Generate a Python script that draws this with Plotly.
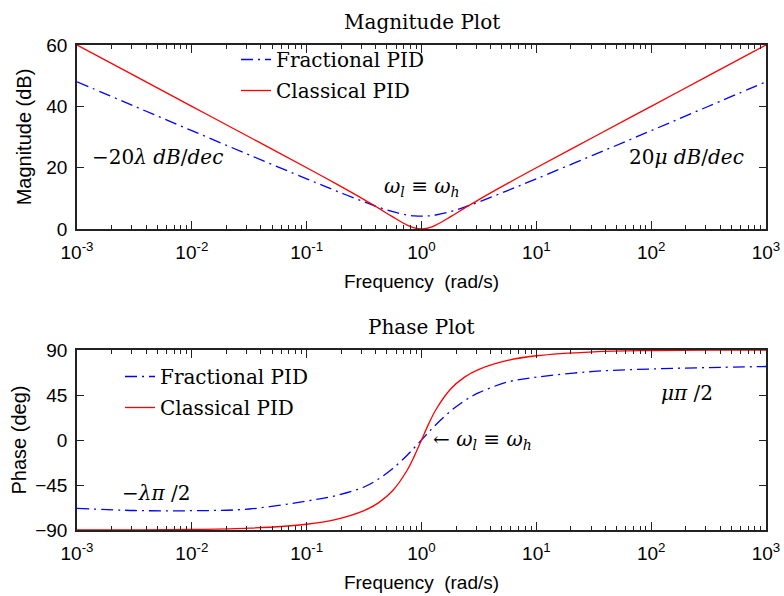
import plotly.graph_objects as go
from plotly.subplots import make_subplots

# Frequencies (rad/s)
freq = [1e-3, 3.162e-3, 1e-2, 3.162e-2, 0.1, 0.1778, 0.3162, 0.4217, 0.5623, 0.7499, 0.8660,
        1.0, 1.1548, 1.3335, 1.7783, 2.3714, 3.1623, 5.6234, 10.0, 31.623, 100.0, 316.23, 1000.0]

# Magnitude (dB)
mag_frac = [48.01, 40.03, 32.07, 24.16, 16.36, 12.53, 8.84, 7.12, 5.64, 4.57, 4.28,
            4.18, 4.28, 4.57, 5.64, 7.12, 8.84, 12.53, 16.36, 24.16, 32.07, 40.03, 48.01]
mag_class = [60.0, 50.0, 40.0, 30.0, 19.96, 14.87, 9.59, 6.81, 3.94, 1.27, 0.35,
             0.0, 0.35, 1.27, 3.94, 6.81, 9.59, 14.87, 19.96, 30.0, 40.0, 50.0, 60.0]

# Phase (deg)
ph_frac = [-68.3, -70.5, -70.7, -69.0, -61.0, -55.8, -47.0, -39.0, -28.5, -15.2, -7.7,
           0.0, 7.8, 15.3, 28.6, 39.3, 47.3, 58.0, 62.8, 68.6, 71.0, 72.4, 73.5]
ph_class = [-89.94, -89.82, -89.43, -88.19, -84.23, -79.59, -70.64, -62.85, -50.56, -30.27, -16.11,
            0.0, 16.11, 30.27, 50.56, 62.85, 70.64, 79.59, 84.23, 88.19, 89.43, 89.82, 89.94]

names = ["Fractional PID", "Classical PID"]
xtickvals = [1e-3, 1e-2, 1e-1, 1, 10, 100, 1000]
xticktext = ["10<sup>-3</sup>", "10<sup>-2</sup>", "10<sup>-1</sup>", "10<sup>0</sup>",
             "10<sup>1</sup>", "10<sup>2</sup>", "10<sup>3</sup>"]
minor_vals = [m * d for d in [1e-3, 1e-2, 1e-1, 1, 10, 100] for m in range(2, 10)]

W, H = 784, 596
ML, MR, MT, MB = 77, 18, 45, 66
ph = H - MT - MB

serif = "DejaVu Serif"
sans = "Liberation Sans"
BLUE = "#0000ff"
RED = "#ff0000"
dashdot = "12px,5px,2px,5px"

fig = make_subplots(rows=2, cols=1, vertical_spacing=0.1)

fig.add_trace(go.Scatter(x=freq, y=mag_frac, mode="lines", name=names[0], legend="legend",
                         legendgroup="a", line=dict(color=BLUE, width=1.3, dash=dashdot, shape="spline")),
              row=1, col=1)
fig.add_trace(go.Scatter(x=freq, y=mag_class, mode="lines", name=names[1], legend="legend",
                         legendgroup="b", line=dict(color=RED, width=1.3, shape="spline")),
              row=1, col=1)
fig.add_trace(go.Scatter(x=freq, y=ph_frac, mode="lines", name=names[0], legend="legend2",
                         legendgroup="c", line=dict(color=BLUE, width=1.3, dash=dashdot, shape="spline")),
              row=2, col=1)
fig.add_trace(go.Scatter(x=freq, y=ph_class, mode="lines", name=names[1], legend="legend2",
                         legendgroup="d", line=dict(color=RED, width=1.3, shape="spline")),
              row=2, col=1)

top_lo = (H - MB - 229) / ph
bot_hi = (H - MB - 350) / ph

axis_common = dict(showline=True, linecolor="#222", linewidth=1.5, mirror="allticks",
                   ticks="inside", tickcolor="#222", showgrid=False, zeroline=False,
                   automargin=False,
                   tickfont=dict(family=sans, size=19, color="black"))

xcommon = dict(axis_common, type="log", range=[-3, 3], tickmode="array",
               tickvals=xtickvals, ticktext=xticktext, ticklen=8, ticklabelstandoff=5,
               minor=dict(ticks="inside", ticklen=4, tickcolor="#222", tickmode="array",
                          tickvals=minor_vals, showgrid=False),
               title=dict(text="Frequency  (rad/s)", font=dict(family=sans, size=19, color="black"),
                          standoff=13))

fig.update_xaxes(**xcommon, row=1, col=1)
fig.update_xaxes(**xcommon, row=2, col=1)

fig.update_yaxes(**axis_common, range=[0, 60], tickvals=[0, 20, 40, 60], ticklen=7,
                 domain=[top_lo, 1.0], ticklabelstandoff=4,
                 title=dict(text="Magnitude (dB)", font=dict(family=sans, size=20, color="black"),
                            standoff=9), row=1, col=1)
fig.update_yaxes(**axis_common, range=[-90, 90], tickvals=[-90, -45, 0, 45, 90], ticklen=7,
                 domain=[0, bot_hi], ticklabelstandoff=4,
                 title=dict(text="Phase (deg)", font=dict(family=sans, size=20, color="black"),
                            standoff=3), row=2, col=1)

def px_x(p):
    return (p - ML) / (W - ML - MR)

def px_y(p):
    return (H - MB - p) / ph

ann = []
ann.append(dict(text="Magnitude Plot", x=0.5, y=px_y(22), xref="paper", yref="paper",
                yanchor="middle", showarrow=False, font=dict(family=serif, size=20, color="black")))
ann.append(dict(text="Phase Plot", x=0.5, y=px_y(327), xref="paper", yref="paper",
                yanchor="middle", showarrow=False, font=dict(family=serif, size=20, color="black")))

mfont = dict(family=serif, size=20, color="black")
ann.append(dict(text="−20<i>λ dB</i>/<i>dec</i>", x=-2.30, y=23.5, xref="x", yref="y",
                yanchor="middle", showarrow=False, font=mfont))
ann.append(dict(text="20<i>μ dB</i>/<i>dec</i>", x=2.31, y=23.5, xref="x", yref="y",
                yanchor="middle", showarrow=False, font=mfont))
ann.append(dict(text="<i>ω<sub>l</sub></i> ≡ <i>ω<sub>h</sub></i>", x=0.0, y=13.8, xref="x", yref="y",
                yanchor="middle", showarrow=False, font=mfont))
ann.append(dict(text="<i>μπ</i> /2", x=2.31, y=47, xref="x2", yref="y2",
                yanchor="middle", showarrow=False, font=mfont))
ann.append(dict(text="−<i>λπ</i> /2", x=-2.31, y=-53, xref="x2", yref="y2",
                yanchor="middle", showarrow=False, font=mfont))
ann.append(dict(text="← <i>ω<sub>l</sub></i> ≡ <i>ω<sub>h</sub></i>", x=0.085, y=0, xref="x2", yref="y2",
                xanchor="left", yanchor="middle", showarrow=False, font=mfont))

legfont = dict(family=serif, size=20, color="black")
fig.update_layout(
    width=W, height=H,
    margin=dict(l=ML, r=MR, t=MT, b=MB, autoexpand=False),
    plot_bgcolor="white", paper_bgcolor="white",
    annotations=ann,
    legend=dict(x=px_x(236), y=px_y(40), xanchor="left", yanchor="top", bgcolor="rgba(0,0,0,0)",
                font=legfont, tracegroupgap=2, itemwidth=30),
    legend2=dict(x=px_x(120), y=px_y(357), xanchor="left", yanchor="top", bgcolor="rgba(0,0,0,0)",
                 font=legfont, tracegroupgap=2, itemwidth=30),
    showlegend=True,
)

fig.write_html("out.html")
